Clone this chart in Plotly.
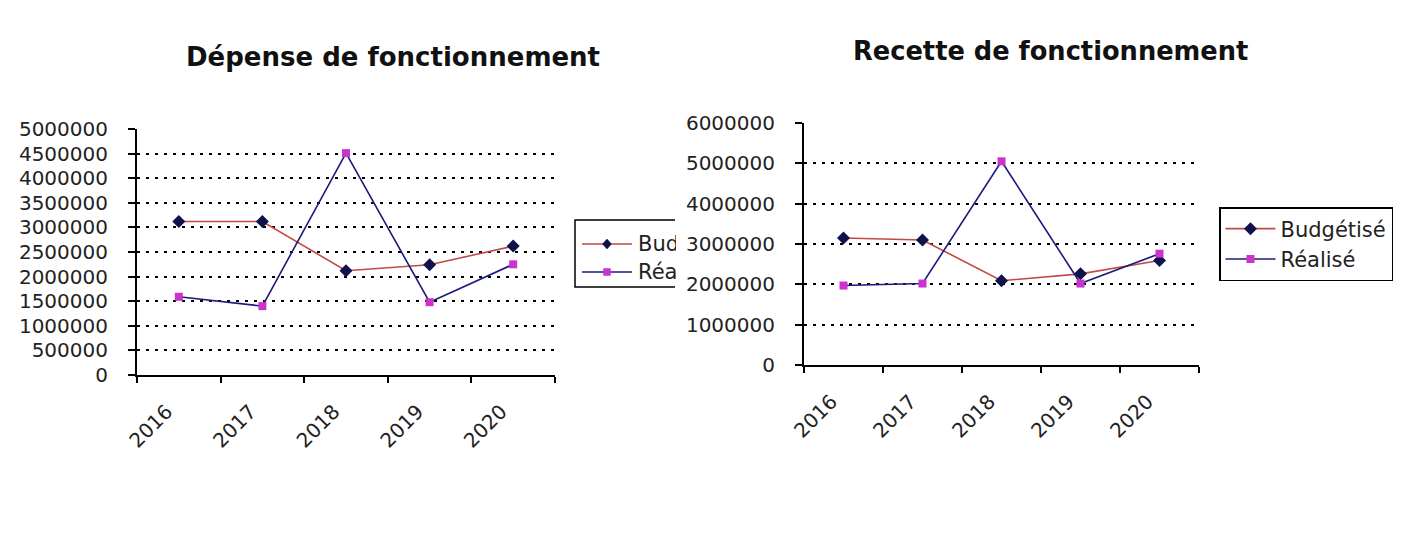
import plotly.graph_objects as go

W, H = 1407, 546
OX, OY = 8, 8  # page body offset compensation

years = ["2016", "2017", "2018", "2019", "2020"]
dep_budget = [3120000, 3120000, 2120000, 2240000, 2620000]
dep_realise = [1590000, 1400000, 4510000, 1480000, 2250000]
rec_budget = [3150000, 3100000, 2090000, 2260000, 2590000]
rec_realise = [1970000, 2020000, 5050000, 2020000, 2760000]
series_names = ["Budgétisé", "Réalisé"]
titles = ["Dépense de fonctionnement", "Recette de fonctionnement"]

FONT = "DejaVu Sans"
TXT = "#222222"
RED = "#C24A44"
NAVY = "#1B1B7A"
DIAM = "#10104A"
MAG = "#CC33CC"


def px(x):
    return (x - OX) / W


def py(y):
    return 1 - (y - OY) / H


fig = go.Figure()

fig.add_trace(go.Scatter(x=years, y=dep_budget, mode="lines+markers", name=series_names[0],
                         line=dict(color=RED, width=1.6),
                         marker=dict(symbol="diamond", size=10, color=DIAM),
                         xaxis="x", yaxis="y", showlegend=False))
fig.add_trace(go.Scatter(x=years, y=dep_realise, mode="lines+markers", name=series_names[1],
                         line=dict(color=NAVY, width=1.6),
                         marker=dict(symbol="square", size=8, color=MAG),
                         xaxis="x", yaxis="y", showlegend=False))
fig.add_trace(go.Scatter(x=years, y=rec_budget, mode="lines+markers", name=series_names[0],
                         line=dict(color=RED, width=1.6),
                         marker=dict(symbol="diamond", size=10, color=DIAM),
                         xaxis="x2", yaxis="y2"))
fig.add_trace(go.Scatter(x=years, y=rec_realise, mode="lines+markers", name=series_names[1],
                         line=dict(color=NAVY, width=1.6),
                         marker=dict(symbol="square", size=8, color=MAG),
                         xaxis="x2", yaxis="y2"))

xcommon = dict(type="category", range=[-0.5, 4.5], tickson="boundaries", ticks="outside",
               ticklen=6, tickwidth=1.5, tickcolor="black", showline=True, linecolor="black",
               linewidth=2, showgrid=False, tickangle=-45, zeroline=False, automargin=False,
               ticklabelstandoff=15, ticklabelshift=-12,
               tickfont=dict(family=FONT, size=20, color=TXT), fixedrange=True)
ycommon = dict(ticks="outside", ticklen=7, tickwidth=1.5, tickcolor="black", showline=True,
               linecolor="black", linewidth=2, showgrid=True, gridcolor="black", gridwidth=2,
               griddash="3px,6px", zeroline=False, tickformat="d", automargin=False,
               ticklabelstandoff=16,
               tickfont=dict(family=FONT, size=20, color=TXT), fixedrange=True)

fig.update_layout(
    template="none",
    width=W, height=H, autosize=False,
    margin=dict(l=0, r=0, t=0, b=0, pad=0, autoexpand=False),
    paper_bgcolor="white", plot_bgcolor="white",
    xaxis=dict(domain=[px(137), px(555)], anchor="y", **xcommon),
    yaxis=dict(domain=[py(375), py(129)], anchor="x", range=[0, 5000000], dtick=500000, **ycommon),
    xaxis2=dict(domain=[px(804), px(1199)], anchor="y2", **xcommon),
    yaxis2=dict(domain=[py(365), py(123)], anchor="x2", range=[0, 6000000], dtick=1000000, **ycommon),
    legend=dict(x=px(1219), y=py(207), xanchor="left", yanchor="top",
                bordercolor="black", borderwidth=1.5, bgcolor="white",
                font=dict(family=FONT, size=21, color=TXT), itemwidth=50,
                tracegroupgap=0),
    showlegend=True,
)

ann = []
ann.append(dict(text="<b>" + titles[0] + "</b>", x=px(393), y=py(57), xref="paper", yref="paper",
                xanchor="center", yanchor="middle",
                showarrow=False, font=dict(family=FONT, size=26, color="#111111")))
ann.append(dict(text="<b>" + titles[1] + "</b>", x=px(1050), y=py(51), xref="paper", yref="paper",
                xanchor="center", yanchor="middle",
                showarrow=False, font=dict(family=FONT, size=25.7, color="#111111")))
ann.append(dict(text=series_names[0], x=px(636), y=py(244), xref="paper", yref="paper",
                xanchor="left", yanchor="middle", width=38, align="left", showarrow=False,
                font=dict(family=FONT, size=21, color=TXT)))
ann.append(dict(text=series_names[1], x=px(636), y=py(272), xref="paper", yref="paper",
                xanchor="left", yanchor="middle", width=38, align="left", showarrow=False,
                font=dict(family=FONT, size=21, color=TXT)))
fig.update_layout(annotations=ann)

shapes = []
shapes.append(dict(type="path", xref="paper", yref="paper",
                   path=f"M {px(675)},{py(220)} L {px(575)},{py(220)} L {px(575)},{py(287)} L {px(675)},{py(287)}",
                   line=dict(color="black", width=1.5)))
shapes.append(dict(type="line", xref="paper", yref="paper", x0=px(582), x1=px(632), y0=py(244), y1=py(244),
                   line=dict(color=RED, width=1.6)))
shapes.append(dict(type="line", xref="paper", yref="paper", x0=px(582), x1=px(632), y0=py(272), y1=py(272),
                   line=dict(color=NAVY, width=1.6)))
shapes.append(dict(type="path", xref="paper", yref="paper", xsizemode="pixel", ysizemode="pixel",
                   xanchor=px(607), yanchor=py(244), path="M 0,5 L 4.5,0 L 0,-5 L -4.5,0 Z",
                   fillcolor=DIAM, line=dict(color=DIAM, width=0.5)))
shapes.append(dict(type="rect", xref="paper", yref="paper", xsizemode="pixel", ysizemode="pixel",
                   xanchor=px(607), yanchor=py(272), x0=-3.5, x1=3.5, y0=-3.5, y1=3.5,
                   fillcolor=MAG, line=dict(color=MAG, width=0.5)))
fig.update_layout(shapes=shapes)

fig.write_html("out.html")
